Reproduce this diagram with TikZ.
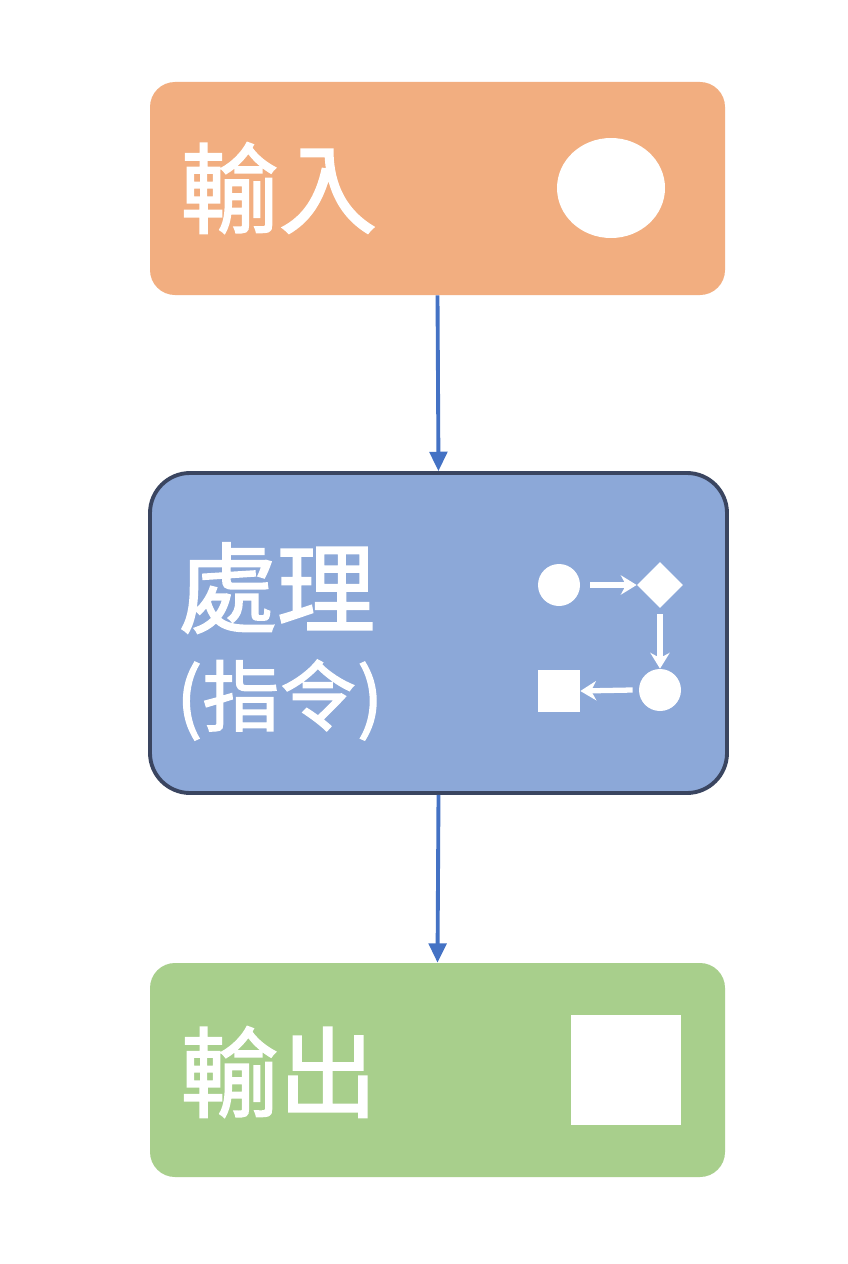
\documentclass[tikz,border=0pt]{standalone}
\usepackage{fontspec}
\newfontfamily\cjk{Noto Sans CJK TC}[FakeBold=1.6]
\usetikzlibrary{arrows.meta,shapes.geometric}
\definecolor{inC}{HTML}{F2AE80}
\definecolor{prC}{HTML}{8CA8D8}
\definecolor{prB}{HTML}{3A4560}
\definecolor{outC}{HTML}{A8CF8C}
\definecolor{arC}{HTML}{4472C4}
\begin{document}
\begin{tikzpicture}[x=0.02cm,y=-0.02cm,
  box/.style={rounded corners=0.5cm},
  lbl/.style={text=white,font=\cjk\fontsize{56}{60}\selectfont,anchor=west,inner sep=0},
  conn/.style={draw=arC,line width=2.2pt,-{Triangle[length=11pt,width=10pt]}},
  ico/.style={fill=white,draw=none},
  iar/.style={white,line width=3pt,-{Stealth[length=9pt,width=11pt]}}]
\useasboundingbox (0,0) rectangle (848,1264);
\fill[white] (0,0) rectangle (848,1264);
\node[box,fill=inC,minimum width=575*0.02cm,minimum height=213*0.02cm] (in) at (437.5,188.5) {};
\node[box,fill=prC,draw=prB,line width=2.2pt,rounded corners=0.8cm,minimum width=577*0.02cm,minimum height=320*0.02cm] (pr) at (438.5,633) {};
\node[box,fill=outC,minimum width=575*0.02cm,minimum height=214*0.02cm] (out) at (437.5,1070) {};
\draw[conn] (in.south) -- (pr.north);
\draw[conn] (pr.south) -- (out.north);
\node[lbl] (t1) at (180,188) {輸入};
\fill[white] (611,188) ellipse [x radius=54, y radius=50];
\node[lbl] (t2) at (178,588) {處理};
\node[lbl,font=\cjk\fontsize{44}{48}\selectfont] (t3) at (176,700) {(指令)};
\node[lbl] (t4) at (180,1072) {輸出};
\fill[white] (571,1015) rectangle (681,1125);
% process icons
\node[circle,ico,minimum size=42*0.02cm,inner sep=0] (c1) at (559,585) {};
\node[diamond,ico,minimum size=46*0.02cm,inner sep=0] (d1) at (660,585) {};
\node[circle,ico,minimum size=42*0.02cm,inner sep=0] (c2) at (660,690) {};
\node[rectangle,ico,minimum size=42*0.02cm,inner sep=0] (s1) at (559,691) {};
\draw[iar] (c1.east)++(10,0) coordinate (a1) (a1) -- (d1.west);
\draw[iar] (d1.south)++(0,6) coordinate (a2) (a2) -- (c2.north);
\draw[iar] (c2.west)++(-6,0) coordinate (a3) (a3) -- (s1.east);
\end{tikzpicture}
\end{document}
